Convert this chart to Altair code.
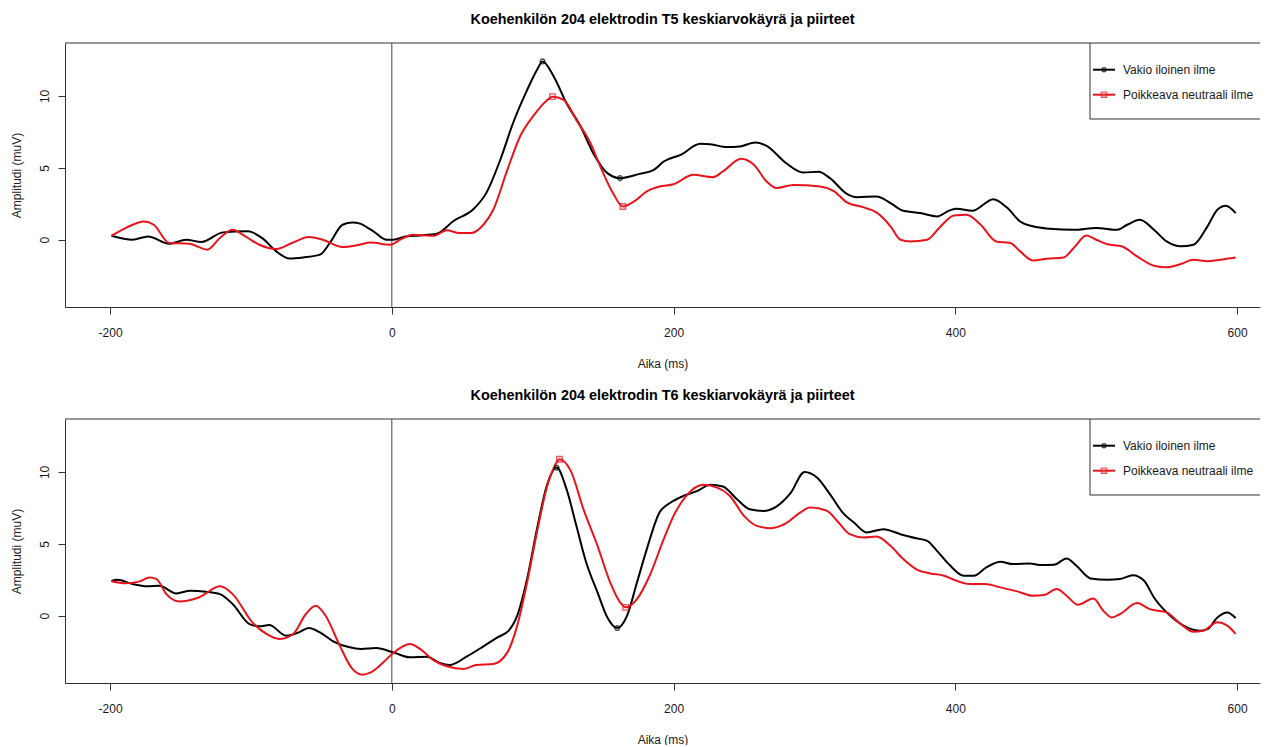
import altair as alt
import pandas as pd

FONT = "Liberation Sans"
S_BLACK = "Vakio iloinen ilme"
S_RED = "Poikkeava neutraali ilme"
SERIES = [S_BLACK, S_RED]
COLORS = ["#000000", "#e8141c"]
X_TICKS = [-200, 0, 200, 400, 600]
Y_TICKS = [0, 5, 10]
TITLES = [
    "Koehenkilön 204 elektrodin T5 keskiarvokäyrä ja piirteet",
    "Koehenkilön 204 elektrodin T6 keskiarvokäyrä ja piirteet",
]

# ---- T5 ----
t5_black_t = [-199, -184, -173, -158, -146, -135, -120, -102, -92, -82, -73, -63, -51, -44, -35, -28, -22, -18, -13, -4,
              1, 10, 20, 32, 44, 58, 67, 77, 86, 96, 103, 107, 115, 124, 134, 143, 153, 162, 176, 186,
              193, 205, 219, 226, 238, 247, 258, 266, 280, 292, 303, 311, 323, 330, 344, 354, 363, 375, 387, 396,
              401, 412, 427, 437, 446, 455, 467, 484, 500, 515, 522, 531, 541, 550, 560, 569, 579, 586, 592, 599]
t5_black_v = [0.28, 0.0, 0.23, -0.28, 0.0, -0.16, 0.51, 0.58, 0.11, -0.81, -1.30, -1.23, -1.04, -0.23, 1.04, 1.2, 1.1, 0.88, 0.58, 0.0,
              0.0, 0.23, 0.3, 0.42, 1.32, 2.13, 3.24, 5.56, 8.1, 10.4, 11.8, 12.4, 11.34, 9.49, 7.87, 6.02, 4.63, 4.28, 4.58, 4.86,
              5.44, 5.9, 6.67, 6.64, 6.44, 6.48, 6.76, 6.53, 5.32, 4.68, 4.72, 4.28, 3.19, 2.96, 3.01, 2.55, 2.01, 1.85, 1.62, 2.04,
              2.15, 2.01, 2.82, 2.2, 1.27, 0.93, 0.76, 0.69, 0.81, 0.69, 1.04, 1.39, 0.69, -0.12, -0.46, -0.35, 0.93, 2.08, 2.36, 1.85]
t5_red_t = [-199, -189, -176, -169, -158, -144, -131, -122, -113, -104,
            -94, -82, -70, -59, -49, -35, -23, -15, -1, 6,
            15, 30, 39, 48, 56, 65, 72, 82, 91, 101,
            110, 114, 122, 131, 141, 148, 157, 164, 172, 181,
            190, 200, 214, 228, 235, 248, 257, 266, 273, 285,
            304, 314, 323, 335, 344, 354, 361, 368, 380, 389,
            399, 408, 418, 429, 439, 446, 455, 465, 477, 484,
            493, 500, 508, 518, 529, 541, 550, 560, 569, 579,
            588, 599]
t5_red_v = [0.28, 0.81, 1.27, 1.04, -0.23, -0.28, -0.69, 0.12, 0.69, 0.23,
            -0.35, -0.65, -0.19, 0.19, 0.0, -0.51, -0.35, -0.2, -0.35, 0.0,
            0.35, 0.28, 0.65, 0.46, 0.46, 1.04, 2.08, 4.86, 7.18, 8.68,
            9.68, 9.95, 9.72, 8.33, 6.71, 5.09, 3.24, 2.31, 2.66, 3.36,
            3.7, 3.86, 4.51, 4.35, 4.75, 5.63, 5.21, 4.05, 3.59, 3.8,
            3.7, 3.36, 2.59, 2.25, 1.9, 0.93, 0.0, -0.12, 0.0, 0.87,
            1.69, 1.74, 1.04, -0.12, -0.23, -0.81, -1.44, -1.32, -1.23, -0.58,
            0.3, 0.0, -0.32, -0.46, -1.16, -1.81, -1.92, -1.69, -1.39, -1.5,
            -1.39, -1.23]
t5_black_peaks_t = [107, 162]
t5_black_peaks_v = [12.4, 4.28]
t5_red_peaks_t = [114, 164]
t5_red_peaks_v = [9.95, 2.31]

# ---- T6 ----
t6_black_t = [-199, -195, -184, -174, -165, -153, -143, -132, -122, -113,
              -101, -94, -87, -75, -66, -59, -51, -42, -30, -22,
              -11, 1, 13, 25, 34, 41, 53, 65, 75, 83,
              89, 96, 103, 110, 117, 124, 131, 138, 146, 153,
              160, 167, 174, 181, 190, 198, 207, 217, 226, 235,
              245, 254, 264, 273, 283, 293, 302, 311, 321, 328,
              337, 349, 361, 373, 380, 387, 396, 406, 413, 422,
              432, 441, 453, 460, 470, 479, 486, 496, 508, 517,
              526, 534, 541, 550, 562, 573, 579, 586, 593, 599]
t6_black_v = [2.41, 2.5, 2.2, 2.04, 2.08, 1.55, 1.74, 1.67, 1.5, 0.81,
              -0.58, -0.74, -0.65, -1.39, -1.16, -0.86, -1.16, -1.76, -2.2, -2.31,
              -2.25, -2.55, -2.89, -2.85, -3.29, -3.43, -2.85, -2.13, -1.5, -1.04,
              0.0, 2.55, 6.02, 9.03, 10.3, 8.8, 6.25, 3.7, 1.62, -0.12,
              -0.86, 0.0, 2.31, 4.63, 7.18, 7.87, 8.33, 8.68, 9.1, 8.98,
              8.1, 7.41, 7.29, 7.59, 8.52, 10.0, 9.6, 8.45, 7.06, 6.48,
              5.79, 6.02, 5.67, 5.37, 5.21, 4.51, 3.52, 2.78, 2.78, 3.36,
              3.75, 3.59, 3.63, 3.52, 3.54, 3.98, 3.47, 2.59, 2.5, 2.55,
              2.82, 2.43, 1.27, 0.23, -0.69, -1.04, -0.93, -0.12, 0.23, -0.16]
t6_red_t = [-199, -189, -179, -172, -167, -160, -151, -137, -122, -113,
            -99, -89, -80, -70, -61, -54, -47, -37, -28, -21,
            -15, -6, 1, 13, 20, 30, 39, 51, 60, 72,
            82, 89, 96, 103, 110, 115, 119, 127, 136, 146,
            155, 162, 166, 174, 183, 193, 200, 209, 221, 231,
            240, 250, 259, 269, 280, 290, 297, 309, 316, 325,
            335, 344, 354, 363, 373, 382, 392, 399, 410, 421,
            432, 444, 455, 463, 472, 479, 487, 498, 505, 511,
            517, 529, 538, 550, 560, 569, 576, 586, 593, 599]
t6_red_v = [2.39, 2.25, 2.39, 2.66, 2.55, 1.5, 0.99, 1.27, 2.04, 1.5,
            -0.46, -1.27, -1.62, -1.27, 0.12, 0.69, 0.0, -2.08, -3.7, -4.1,
            -3.94, -3.24, -2.59, -1.97, -2.31, -3.13, -3.52, -3.7, -3.43, -3.36,
            -2.55, -0.69, 2.31, 5.79, 8.91, 10.3, 10.88, 10.07, 7.41, 4.86,
            2.31, 0.93, 0.58, 1.16, 2.78, 5.32, 6.94, 8.33, 9.1, 8.91,
            8.33, 6.94, 6.25, 6.09, 6.44, 7.18, 7.52, 7.29, 6.6, 5.67,
            5.44, 5.51, 4.86, 3.94, 3.19, 2.94, 2.78, 2.5, 2.2, 2.2,
            1.97, 1.69, 1.39, 1.44, 1.85, 1.39, 0.76, 1.2, 0.35, -0.12,
            0.12, 0.88, 0.46, 0.23, -0.58, -1.11, -1.04, -0.46, -0.69, -1.27]
t6_black_peaks_t = [117, 160]
t6_black_peaks_v = [10.3, -0.86]
t6_red_peaks_t = [119, 166]
t6_red_peaks_v = [10.88, 0.58]

W = 1195
H = 264
X_MAX = -232 + W / 1.40875
TXT = "#1a1a1a"
FRAME = "#333333"
LEG_X = 1025  # legend box left edge, in plot pixels


def panel(title, bt, bv, rt, rv, bpt, bpv, rpt, rpv):
    lines = pd.concat([
        pd.DataFrame({"t": bt, "v": bv, "s": S_BLACK}),
        pd.DataFrame({"t": rt, "v": rv, "s": S_RED}),
    ])
    xs = alt.Scale(domain=[-232, X_MAX], nice=False, zero=False)
    ys = alt.Scale(domain=[-4.68, 13.68], nice=False, zero=False)
    xax = alt.Axis(values=X_TICKS, title="Aika (ms)", grid=False, domain=True,
                   domainColor=FRAME, domainWidth=1,
                   tickSize=7, tickColor=FRAME, labelPadding=13, titlePadding=20,
                   labelFontSize=12, titleFontSize=12, titleFontWeight="normal",
                   labelColor=TXT, titleColor=TXT, labelExpr="'' + datum.value",
                   labelFlush=False)
    yax = alt.Axis(values=Y_TICKS, title="Amplitudi (muV)", grid=False, domain=True,
                   domainColor=FRAME, domainWidth=1,
                   tickSize=7, tickColor=FRAME, labelAngle=270, labelAlign="center",
                   labelBaseline="bottom", labelPadding=7, titlePadding=15,
                   labelFontSize=12, titleFontSize=12, titleFontWeight="normal",
                   labelColor=TXT, titleColor=TXT, labelExpr="'' + datum.value")
    X = alt.X("t:Q", scale=xs, axis=xax)
    Y = alt.Y("v:Q", scale=ys, axis=yax)
    color = alt.Color("s:N", scale=alt.Scale(domain=SERIES, range=COLORS), legend=None)

    one = pd.DataFrame({"a": [0]})
    top = alt.Chart(one).mark_rule(color=FRAME, strokeWidth=1).encode(
        x=alt.value(0), x2=alt.value(W), y=alt.value(0))
    zero = alt.Chart(pd.DataFrame({"t": [0]})).mark_rule(color="#444", strokeWidth=1).encode(x=X)
    line = alt.Chart(lines).mark_line(strokeWidth=2, interpolate="monotone", clip=True).encode(
        x=X, y=Y, color=color, detail="s:N")
    bpk = alt.Chart(pd.DataFrame({"t": bpt, "v": bpv})).mark_point(
        shape="circle", filled=False, color=COLORS[0], size=22, strokeWidth=1.4).encode(x=X, y=Y)
    rpk = alt.Chart(pd.DataFrame({"t": rpt, "v": rpv})).mark_point(
        shape="square", filled=False, color=COLORS[1], size=30, strokeWidth=1.4).encode(x=X, y=Y)

    box = alt.Chart(one).mark_rect(fill="white", stroke=FRAME, strokeWidth=1, clip=True).encode(
        x=alt.value(LEG_X), x2=alt.value(W + 30), y=alt.value(0), y2=alt.value(76))
    leg = []
    for i, (lab, col, shp, sz) in enumerate(zip(SERIES, COLORS, ["circle", "square"], [16, 26])):
        yy = 26.7 + 25 * i
        leg.append(alt.Chart(one).mark_rule(color=col, strokeWidth=2).encode(
            x=alt.value(LEG_X + 3), x2=alt.value(LEG_X + 25), y=alt.value(yy)))
        leg.append(alt.Chart(one).mark_point(shape=shp, filled=False, color=col, size=sz,
                                             strokeWidth=1.4).encode(
            x=alt.value(LEG_X + 14), y=alt.value(yy)))
        leg.append(alt.Chart(one).mark_text(align="left", baseline="middle", fontSize=12,
                                            color=TXT, font=FONT).encode(
            x=alt.value(LEG_X + 33), y=alt.value(yy), text=alt.value(lab)))

    return alt.layer(top, zero, line, bpk, rpk, box, *leg).properties(
        width=W, height=H,
        title=alt.TitleParams(title, fontSize=14.4, fontWeight="bold", offset=15,
                              anchor="middle", color="#000", font=FONT))


p1 = panel(TITLES[0], t5_black_t, t5_black_v, t5_red_t, t5_red_v,
           t5_black_peaks_t, t5_black_peaks_v, t5_red_peaks_t, t5_red_peaks_v)
p2 = panel(TITLES[1], t6_black_t, t6_black_v, t6_red_t, t6_red_v,
           t6_black_peaks_t, t6_black_peaks_v, t6_red_peaks_t, t6_red_peaks_v)

chart = alt.vconcat(p1, p2, spacing=19).properties(
    padding={"left": 2, "top": 4, "right": 0, "bottom": 0}
).configure(font=FONT).configure_view(stroke=None).configure_axis(
    labelFont=FONT, titleFont=FONT)

chart.save("out.html", embed_options={"renderer": "svg", "actions": False})
